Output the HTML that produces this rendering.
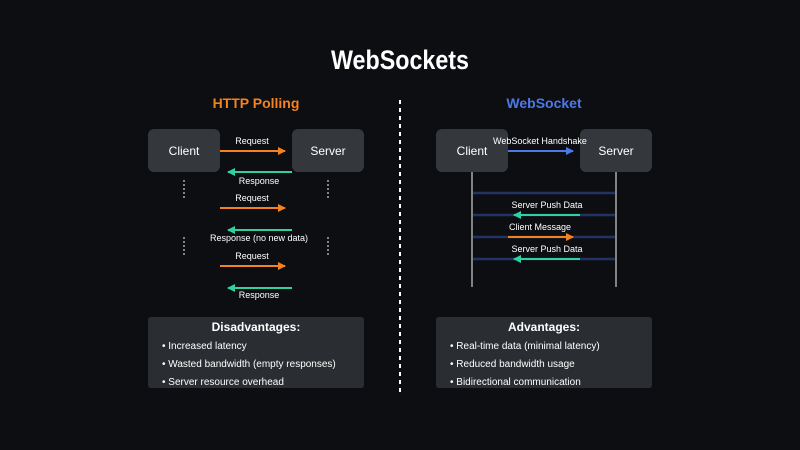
<!DOCTYPE html>
<html><head><style>html,body{margin:0;padding:0;background:#0d0e12;}svg{display:block;font-family:"Liberation Sans",sans-serif;}</style></head>
<body>
<svg width="800" height="450" viewBox="0 0 800 450" xmlns="http://www.w3.org/2000/svg">
<defs>
<marker id="ao" markerWidth="8" markerHeight="8" refX="7" refY="4" orient="auto" markerUnits="userSpaceOnUse"><path d="M0,0 L8,4 L0,8 z" fill="#f4821f"/></marker>
<marker id="ag" markerWidth="8" markerHeight="8" refX="7" refY="4" orient="auto" markerUnits="userSpaceOnUse"><path d="M0,0 L8,4 L0,8 z" fill="#2fd1a0"/></marker>
<marker id="ab" markerWidth="8" markerHeight="8" refX="7" refY="4" orient="auto" markerUnits="userSpaceOnUse"><path d="M0,0 L8,4 L0,8 z" fill="#4d79e8"/></marker>
</defs>
<rect width="800" height="450" fill="#0d0e12"/>
<text x="331" y="69" font-size="27" font-weight="bold" fill="#fff" textLength="138" lengthAdjust="spacingAndGlyphs">WebSockets</text>
<text x="256" y="108" text-anchor="middle" font-size="14" font-weight="bold" fill="#f4821f">HTTP Polling</text>
<text x="544" y="108" text-anchor="middle" font-size="14" font-weight="bold" fill="#4d79e8">WebSocket</text>
<line x1="400" y1="100" x2="400" y2="392" stroke="#fff" stroke-width="2" stroke-dasharray="4,4"/>

<g font-size="12" fill="#fff" text-anchor="middle">
<rect x="148" y="129" width="72" height="43" rx="6" fill="#34373c"/><text x="184" y="155">Client</text>
<rect x="292" y="129" width="72" height="43" rx="6" fill="#34373c"/><text x="328" y="155">Server</text>
<rect x="436" y="129" width="72" height="43" rx="6" fill="#34373c"/><text x="472" y="155">Client</text>
<rect x="580" y="129" width="72" height="43" rx="6" fill="#34373c"/><text x="616" y="155">Server</text>
</g>

<g stroke="#aaa" stroke-width="1.5" stroke-dasharray="2,2">
<line x1="184" y1="180" x2="184" y2="200"/><line x1="328" y1="180" x2="328" y2="200"/>
<line x1="184" y1="237" x2="184" y2="257"/><line x1="328" y1="237" x2="328" y2="257"/>
</g>

<g font-size="9" fill="#fff" text-anchor="middle">
<text x="252" y="144">Request</text>
<text x="259" y="184">Response</text>
<text x="252" y="201">Request</text>
<text x="259" y="241">Response (no new data)</text>
<text x="252" y="259">Request</text>
<text x="259" y="298">Response</text>
</g>
<g stroke-width="2">
<line x1="220" y1="151" x2="285" y2="151" stroke="#f4821f" marker-end="url(#ao)"/>
<line x1="292" y1="172" x2="228" y2="172" stroke="#2fd1a0" marker-end="url(#ag)"/>
<line x1="220" y1="208" x2="285" y2="208" stroke="#f4821f" marker-end="url(#ao)"/>
<line x1="292" y1="230" x2="228" y2="230" stroke="#2fd1a0" marker-end="url(#ag)"/>
<line x1="220" y1="266" x2="285" y2="266" stroke="#f4821f" marker-end="url(#ao)"/>
<line x1="292" y1="288" x2="228" y2="288" stroke="#2fd1a0" marker-end="url(#ag)"/>
</g>

<g stroke="#aaa" stroke-width="1.5">
<line x1="472" y1="172" x2="472" y2="287"/><line x1="616" y1="172" x2="616" y2="287"/>
</g>
<g stroke="#213263" stroke-width="2.5">
<line x1="473" y1="193" x2="615" y2="193"/><line x1="473" y1="215" x2="615" y2="215"/>
<line x1="473" y1="237" x2="615" y2="237"/><line x1="473" y1="259" x2="615" y2="259"/>
</g>
<g stroke-width="2">
<line x1="508" y1="151" x2="573" y2="151" stroke="#4d79e8" marker-end="url(#ab)"/>
<line x1="580" y1="215" x2="514" y2="215" stroke="#2fd1a0" marker-end="url(#ag)"/>
<line x1="508" y1="237" x2="573" y2="237" stroke="#f4821f" marker-end="url(#ao)"/>
<line x1="580" y1="259" x2="514" y2="259" stroke="#2fd1a0" marker-end="url(#ag)"/>
</g>
<g font-size="9" fill="#fff" text-anchor="middle">
<text x="540" y="144">WebSocket Handshake</text>
<text x="547" y="208">Server Push Data</text>
<text x="540" y="230">Client Message</text>
<text x="547" y="252">Server Push Data</text>
</g>

<rect x="148" y="317" width="216" height="71" rx="3" fill="#2a2d32"/>
<rect x="436" y="317" width="216" height="71" rx="3" fill="#2a2d32"/>
<g fill="#fff">
<text x="256" y="331" text-anchor="middle" font-size="12" font-weight="bold">Disadvantages:</text>
<text x="544" y="331" text-anchor="middle" font-size="12" font-weight="bold">Advantages:</text>
<g font-size="10">
<text x="162" y="349">• Increased latency</text>
<text x="162" y="367">• Wasted bandwidth (empty responses)</text>
<text x="162" y="385">• Server resource overhead</text>
<text x="450" y="349">• Real-time data (minimal latency)</text>
<text x="450" y="367">• Reduced bandwidth usage</text>
<text x="450" y="385">• Bidirectional communication</text>
</g>
</g>
</svg>
</body></html>
